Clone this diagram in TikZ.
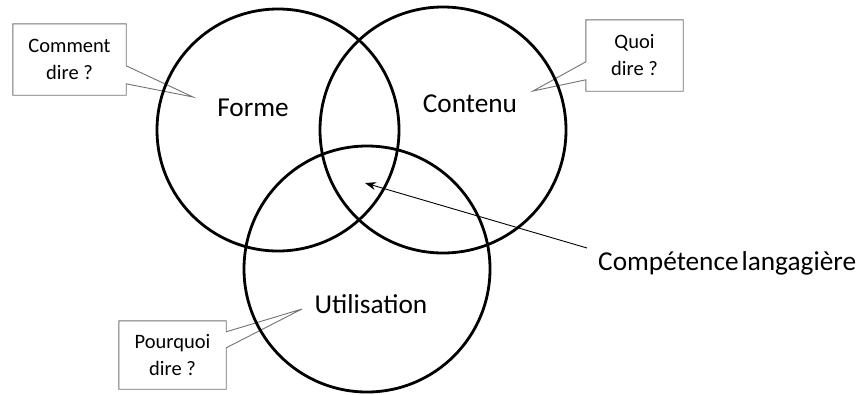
\documentclass[tikz,border=0pt]{standalone}
\usepackage{fontspec}
\setmainfont{Carlito}
\usetikzlibrary{arrows.meta}
\begin{document}
\begin{tikzpicture}[x=1pt,y=-1pt,
  ring/.style={draw=black,line width=2.8pt,circle,inner sep=0pt},
  biglabel/.style={font=\fontsize{27.3}{32}\selectfont,inner sep=0pt,anchor=base},
  boxtext/.style={font=\fontsize{20.5}{27}\selectfont,align=center,inner sep=0pt},
  bubble/.style={draw=black!55,line width=0.9pt,fill=white,line join=miter},
  pointer/.style={line width=0.9pt,-{Stealth[length=11pt,width=8pt]}}]
\useasboundingbox (0,0) rectangle (866,394);
% callout boxes (drawn first so that the circles pass over their tails)
\node[boxtext,minimum width=113pt,minimum height=71pt] (cd) at (69.5,59.5) {};
\coordinate (cdtip) at (193,97);
\draw[bubble] (cd.north west) -- (cd.north east) -- ([yshift=-42pt]cd.north east) -- (cdtip)
  -- ([yshift=-60pt]cd.north east) -- (cd.south east) -- (cd.south west) -- cycle;
\node[boxtext] (cdt) at (cd) {Comment\\dire ?};

\node[boxtext,minimum width=97pt,minimum height=71pt] (qd) at (634.5,55.5) {};
\coordinate (qdtip) at (533,91);
\draw[bubble] (qd.north west) -- (qd.north east) -- (qd.south east) -- (qd.south west)
  -- ([yshift=-60pt]qd.north west) -- (qdtip) -- ([yshift=-42pt]qd.north west) -- cycle;
\node[boxtext] (qdt) at (qd) {Quoi\\dire ?};

\node[boxtext,minimum width=107pt,minimum height=68pt] (pd) at (172.5,355) {};
\coordinate (pdtip) at (302,309);
\draw[bubble] (pd.north west) -- (pd.north east) -- ([yshift=-11pt]pd.north east) -- (pdtip)
  -- ([yshift=-27pt]pd.north east) -- (pd.south east) -- (pd.south west) -- cycle;
\node[boxtext] (pdt) at (pd) {Pourquoi\\dire ?};

% circles
\node[ring,minimum size=242pt] (forme) at (278,130) {};
\node[ring,minimum size=246pt] (contenu) at (443,130) {};
\node[ring,minimum size=246pt] (util) at (367,269) {};

% labels
\node[biglabel] (lf) at (253,116) {Forme};
\node[biglabel] (lc) at (470,112) {Contenu};
\node[biglabel] (lu) at (371,313) {Utilisation};
\node[biglabel,anchor=base west] (comp) at (598,270) {Compétence\hspace{-0.12em} langagière};

% arrow
\coordinate (arrstart) at (587,248);
\coordinate (arrtip) at (365,183);
\draw[pointer] (arrstart) -- (arrtip);
\end{tikzpicture}
\end{document}
